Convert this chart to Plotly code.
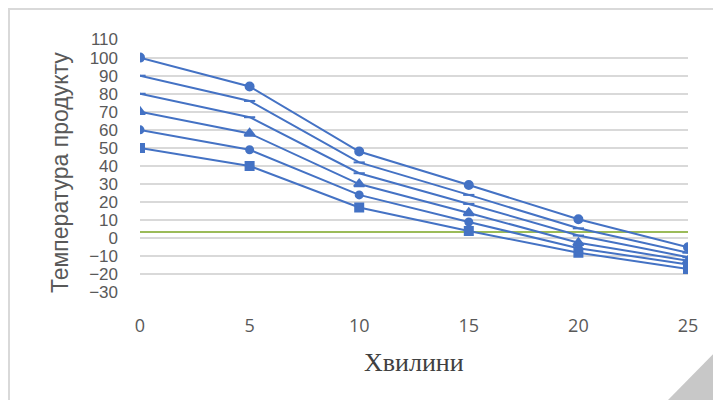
import plotly.graph_objects as go

minutes = [0, 5, 10, 15, 20, 25]
s1 = [100, 84, 48, 29.5, 10.5, -5]
s2 = [90, 76, 42, 24, 5.5, -8]
s3 = [80, 67, 36, 19, 1.5, -10.5]
s4 = [70, 58, 30, 14, -2.5, -12.5]
s5 = [60, 49, 24, 9, -5.5, -14.5]
s6 = [50, 40, 17, 4, -8, -17]
ref_line = [3.5, 3.5, 3.5, 3.5, 3.5, 3.5]
y_ticks = [-30, -20, -10, 0, 10, 20, 30, 40, 50, 60, 70, 80, 90, 100, 110]
x_ticks = [0, 5, 10, 15, 20, 25]

BLUE = "#4472C4"
GREEN = "#9BBB59"
TXT = "#595959"

fig = go.Figure()
fig.add_trace(go.Scatter(x=minutes, y=ref_line, mode="lines",
                         line=dict(color=GREEN, width=2), showlegend=False))

series = [
    (s1, "circle", 8),
    (s2, "line-ew", 8),
    (s3, "line-ew", 8),
    (s4, "triangle-up", 9),
    (s5, "circle", 7),
    (s6, "square", 8),
]
for ys, sym, sz in series:
    fig.add_trace(go.Scatter(
        x=minutes, y=ys, mode="lines+markers",
        line=dict(color=BLUE, width=2),
        marker=dict(symbol=sym, size=sz, color=BLUE,
                    line=dict(color=BLUE, width=2)),
        showlegend=False))

# page has an 8px body margin; work in figure pixel coords = screen - 8
OFF = 8
W, H = 713, 392
L, T = 140 - OFF, 39 - OFF
R = W - (688 - OFF)
B = H - (293 - OFF)
pw, ph = W - L - R, H - T - B

def px(x):
    return (x - OFF - L) / pw

def py(y):
    return (H - B - (y - OFF)) / ph

fig.update_layout(
    width=W, height=H,
    margin=dict(l=L, r=R, t=T, b=B),
    paper_bgcolor="white", plot_bgcolor="white",
    font=dict(family="Liberation Sans", color=TXT, size=17),
    xaxis=dict(range=[0, 25], tickvals=x_ticks, showgrid=False, zeroline=False,
               showline=False, ticks="", ticklabelstandoff=20,
               tickfont=dict(family="Open Sans", size=18, color=TXT)),
    yaxis=dict(range=[-30.3, 110.3], tickvals=y_ticks, showgrid=True,
               gridcolor="#D9D9D9", gridwidth=2, zeroline=False,
               showline=False, ticks="", ticklabelstandoff=21,
               tickfont=dict(family="Liberation Sans", size=17, color=TXT)),
    annotations=[
        dict(text="Температура продукту", x=px(60), y=py(173),
             xref="paper", yref="paper", textangle=-90, showarrow=False,
             xanchor="center", yanchor="middle",
             font=dict(family="Liberation Sans", size=23, color=TXT)),
        dict(text="Хвилини", x=px(414), y=py(362),
             xref="paper", yref="paper", showarrow=False,
             xanchor="center", yanchor="middle",
             font=dict(family="Liberation Serif", size=26, color="#404040")),
    ],
    shapes=[
        dict(type="line", xref="paper", yref="paper",
             x0=px(8), x1=px(721), y0=py(9), y1=py(9),
             line=dict(color="#D9D9D9", width=2)),
        dict(type="line", xref="paper", yref="paper",
             x0=px(9), x1=px(9), y0=py(9), y1=py(400),
             line=dict(color="#D9D9D9", width=2)),
        dict(type="path", xref="paper", yref="paper",
             path=f"M {px(668)} {py(400)} L {px(721)} {py(346)} L {px(721)} {py(400)} Z",
             fillcolor="#C8C8C8", line=dict(width=0)),
    ],
)

fig.write_html("out.html")
